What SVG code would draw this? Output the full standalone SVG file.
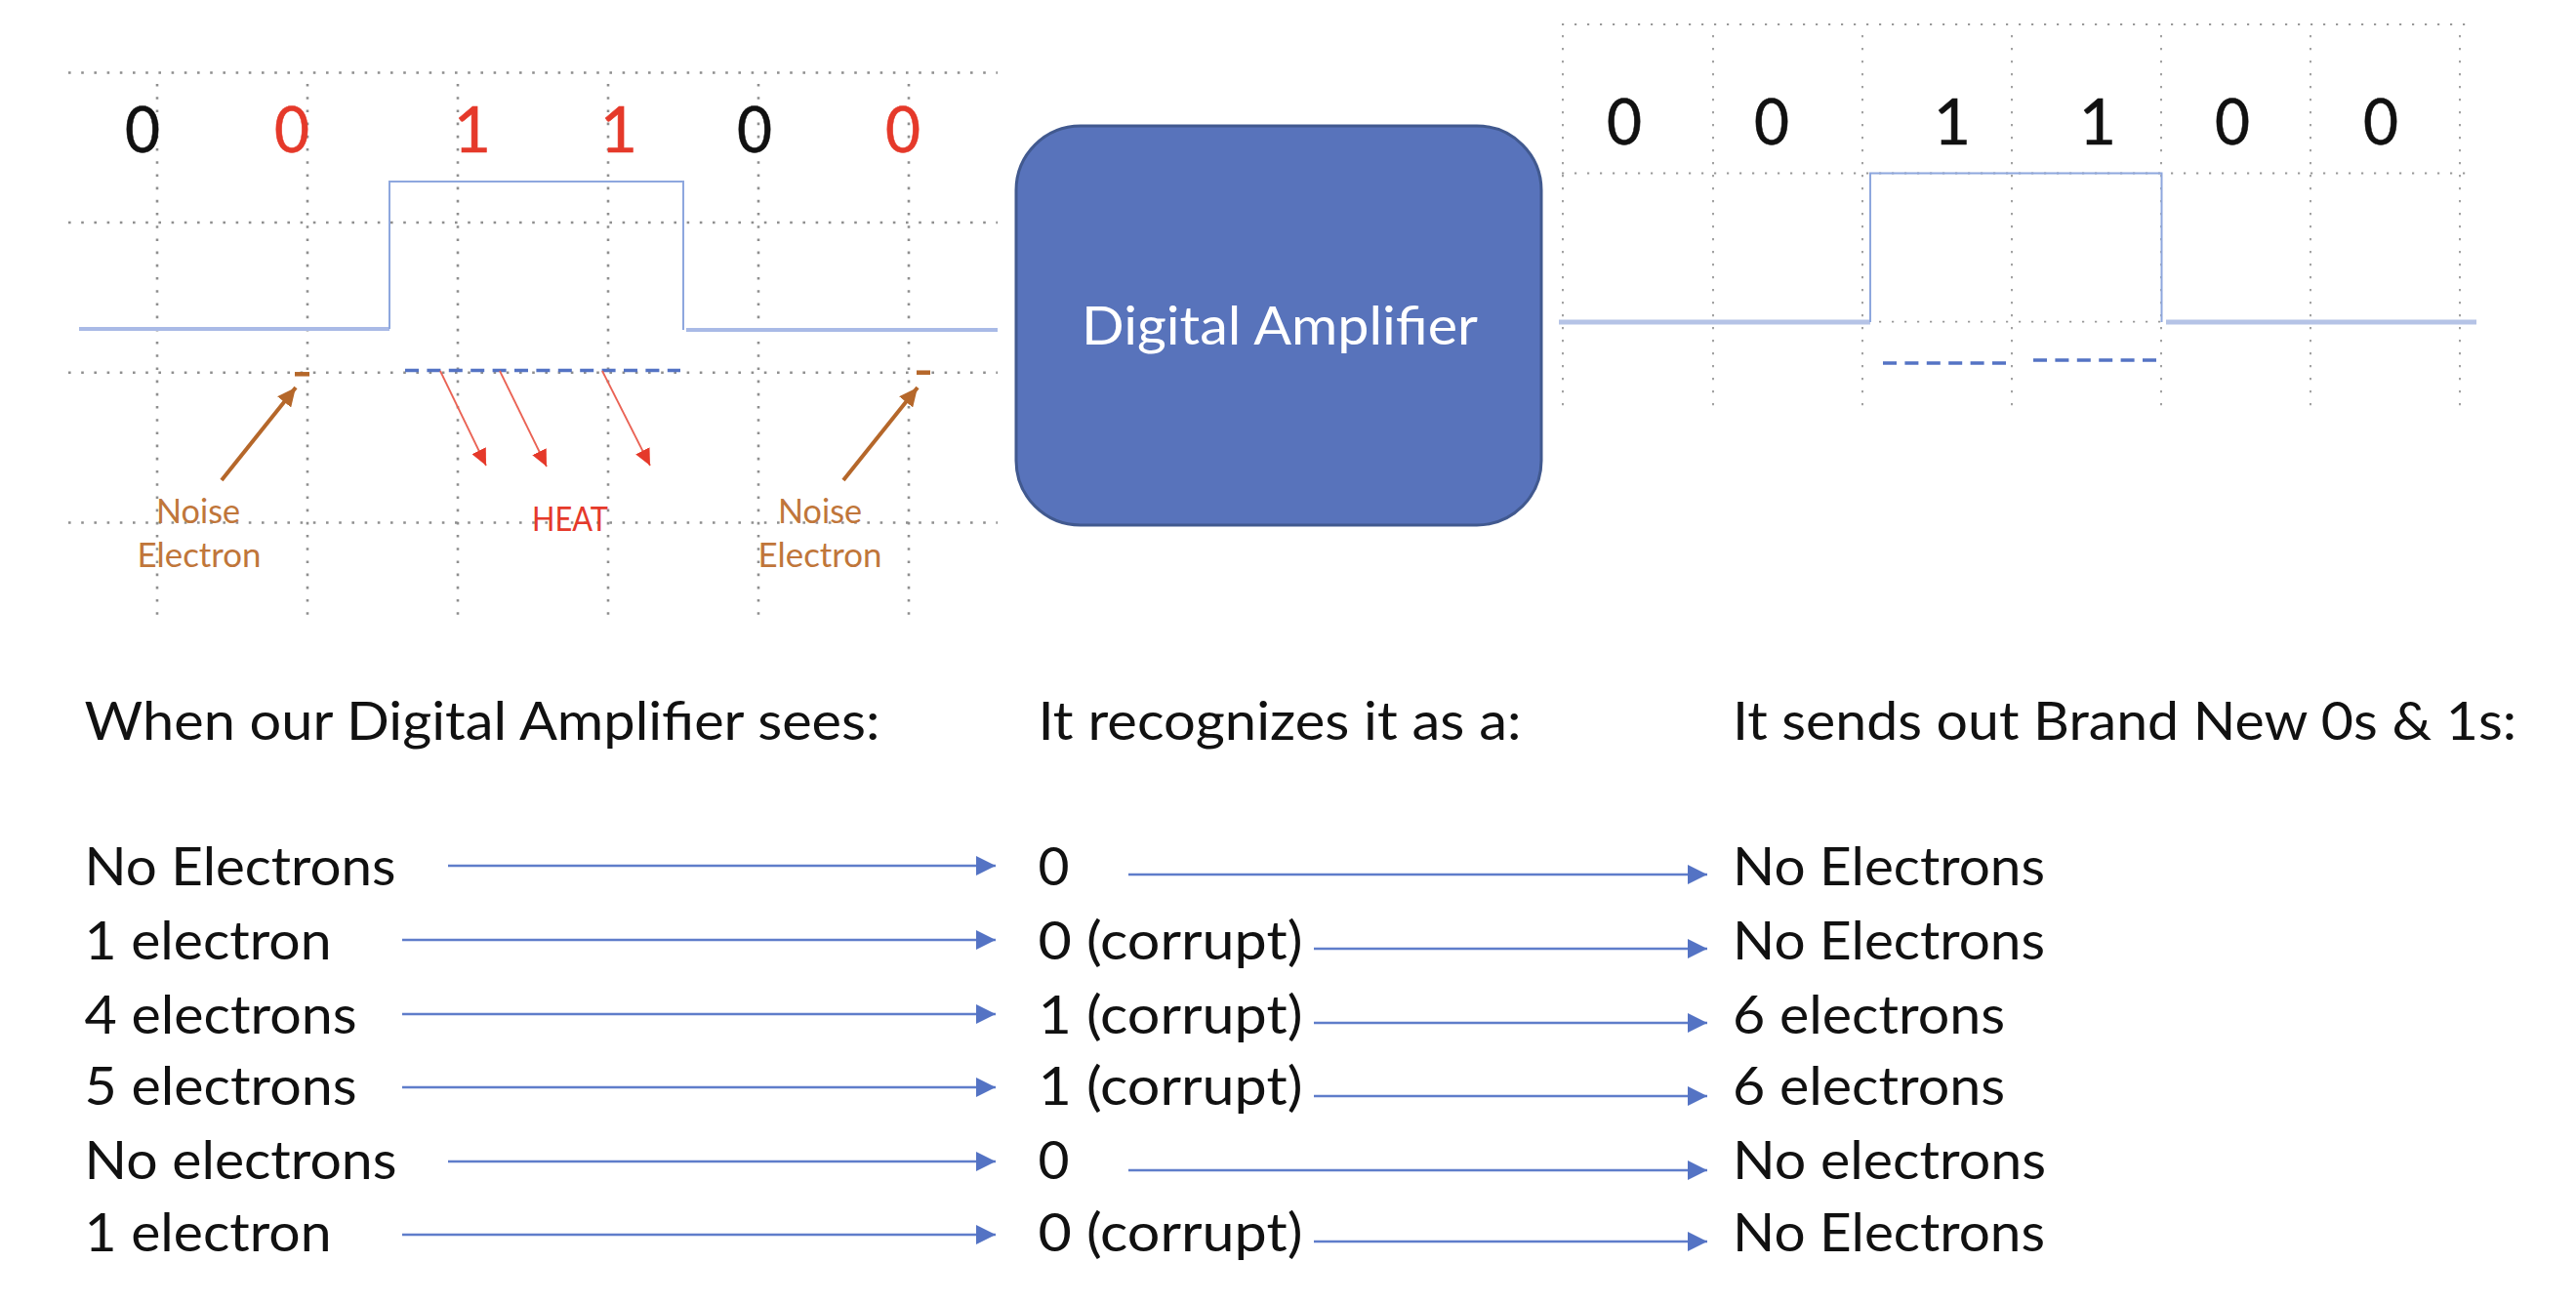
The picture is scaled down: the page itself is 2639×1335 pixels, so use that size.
<svg xmlns="http://www.w3.org/2000/svg" width="2639" height="1335" viewBox="0 0 2639 1335">
<style>
text{font-family:Lato,"Noto Sans",sans-serif;fill:#111}
.row{font-size:55px}
.bit{font-size:66px;text-anchor:middle;stroke:#111;stroke-width:.6}
.red{fill:#e5392a;stroke:#e5392a}
.heatl{stroke:none;font-size:34px}
.br{font-size:35px;fill:#c0763a;text-anchor:middle}
.gA{stroke:#8f8f8f;stroke-width:2.6;stroke-dasharray:2.6 10.6;fill:none}
.gB{stroke:#999;stroke-width:1.8;stroke-dasharray:2.2 10.8;fill:none}
.wave{stroke:#8ea7de;stroke-width:2;fill:none}
.low{stroke:#a9bae6;stroke-width:4;fill:none}
.lowb{stroke:#b5c3e6;stroke-width:5;fill:none}
.dash{stroke:#5473c4;stroke-width:3.5;stroke-dasharray:14 8.4;fill:none}
.conn{stroke:#5f7dca;stroke-width:2.6;fill:none;marker-end:url(#blue)}
.noise{stroke:#b5672a;stroke-width:4;fill:none;marker-end:url(#brown)}
.heat{stroke:#ea6355;stroke-width:1.8;fill:none;marker-end:url(#redh)}
.elec{stroke:#b5672a;stroke-width:4.5;fill:none}
</style>
<defs>
<marker id="blue" markerUnits="userSpaceOnUse" markerWidth="22" markerHeight="20" refX="20" refY="10" orient="auto"><path d="M0 0L20 10L0 20Z" fill="#5473c4"/></marker>
<marker id="brown" markerUnits="userSpaceOnUse" markerWidth="20" markerHeight="18" refX="19" refY="9" orient="auto"><path d="M0 0L19 9L0 18Z" fill="#b5672a"/></marker>
<marker id="redh" markerUnits="userSpaceOnUse" markerWidth="18" markerHeight="16" refX="17" refY="8" orient="auto"><path d="M0 0L17 8L0 16Z" fill="#e5392a"/></marker>
</defs>
<rect width="2639" height="1335" fill="#fff"/>

<g id="input-grid">
<path class="gA" d="M70 74.5H1022M70 228H1022M70 381.7H1022M70 535.5H1022"/>
<path class="gA" d="M161 86V630M315 86V630M469 86V630M623 86V630M777 86V630M931 86V630"/>
</g>
<g id="input-waveform">
<path class="low" d="M81 337H399"/>
<path class="wave" d="M399 337V186H700V338"/>
<path class="low" d="M703 338H1022"/>
<path class="dash" d="M415 379.5H697"/>
<path class="elec" d="M302 383.3H317"/>
<path class="elec" d="M939 381.7H953"/>
</g>
<g id="input-bits">
<text class="bit" x="146" y="156" textLength="36" lengthAdjust="spacingAndGlyphs">0</text>
<text class="bit red" x="299" y="156" textLength="36" lengthAdjust="spacingAndGlyphs">0</text>
<text class="bit red" x="484" y="156">1</text>
<text class="bit red" x="634" y="156">1</text>
<text class="bit" x="773" y="156" textLength="36" lengthAdjust="spacingAndGlyphs">0</text>
<text class="bit red" x="925" y="156" textLength="36" lengthAdjust="spacingAndGlyphs">0</text>
</g>
<g id="noise-label-1">
<text class="br" x="203" y="536" textLength="86" lengthAdjust="spacingAndGlyphs">Noise</text>
<text class="br" x="204" y="581" textLength="127" lengthAdjust="spacingAndGlyphs">Electron</text>
</g>
<g id="heat-label">
<text x="584" y="544" text-anchor="middle" class="red heatl" textLength="78" lengthAdjust="spacingAndGlyphs">HEAT</text>
</g>
<g id="noise-label-2">
<text class="br" x="840" y="536" textLength="86" lengthAdjust="spacingAndGlyphs">Noise</text>
<text class="br" x="840" y="581" textLength="127" lengthAdjust="spacingAndGlyphs">Electron</text>
</g>

<g id="digital-amplifier">
<rect x="1041" y="129" width="538" height="409" rx="66" ry="66" fill="#5873bb" stroke="#41598f" stroke-width="3"/>
<text x="1311" y="353" font-size="55" text-anchor="middle" style="fill:#fff" textLength="406" lengthAdjust="spacingAndGlyphs">Digital Amplifier</text>
</g>

<g id="output-grid">
<path class="gB" d="M1600 25H2535M1600 177.5H2535M1600 329.6H2535"/>
<path class="gB" d="M1601 36V424M1755 36V424M1908 36V424M2061 36V424M2214 36V424M2367 36V424M2520 36V424"/>
</g>
<g id="output-waveform">
<path class="lowb" d="M1597 330H1916"/>
<path class="wave" d="M1916 330V177.5H2214.5V330"/>
<path class="lowb" d="M2219 330H2537"/>
<path class="dash" d="M1929 372H2058"/>
<path class="dash" d="M2083 369H2213"/>
</g>
<g id="output-bits">
<text class="bit" x="1664" y="147.5" textLength="36" lengthAdjust="spacingAndGlyphs">0</text>
<text class="bit" x="1815" y="147.5" textLength="36" lengthAdjust="spacingAndGlyphs">0</text>
<text class="bit" x="2000" y="147.5">1</text>
<text class="bit" x="2149" y="147.5">1</text>
<text class="bit" x="2287" y="147.5" textLength="36" lengthAdjust="spacingAndGlyphs">0</text>
<text class="bit" x="2439" y="147.5" textLength="36" lengthAdjust="spacingAndGlyphs">0</text>
</g>

<g id="column-sees">
<text class="row" x="86.5" y="758" textLength="815" lengthAdjust="spacingAndGlyphs">When our Digital Amplifier sees:</text>
<text class="row" x="86.5" y="907" textLength="319" lengthAdjust="spacingAndGlyphs">No Electrons</text>
<text class="row" x="86.5" y="983" textLength="253" lengthAdjust="spacingAndGlyphs">1 electron</text>
<text class="row" x="86.5" y="1059" textLength="279" lengthAdjust="spacingAndGlyphs">4 electrons</text>
<text class="row" x="86.5" y="1132" textLength="279" lengthAdjust="spacingAndGlyphs">5 electrons</text>
<text class="row" x="86.5" y="1207.5" textLength="320" lengthAdjust="spacingAndGlyphs">No electrons</text>
<text class="row" x="86.5" y="1281.5" textLength="253" lengthAdjust="spacingAndGlyphs">1 electron</text>
</g>
<g id="column-recognizes">
<text class="row" x="1063.5" y="758" textLength="495" lengthAdjust="spacingAndGlyphs">It recognizes it as a:</text>
<text class="row" x="1063.5" y="907" textLength="32" lengthAdjust="spacingAndGlyphs">0</text>
<text class="row" x="1063.5" y="983" textLength="271" lengthAdjust="spacingAndGlyphs">0 (corrupt)</text>
<text class="row" x="1063.5" y="1059" textLength="271" lengthAdjust="spacingAndGlyphs">1 (corrupt)</text>
<text class="row" x="1063.5" y="1132" textLength="271" lengthAdjust="spacingAndGlyphs">1 (corrupt)</text>
<text class="row" x="1063.5" y="1207.5" textLength="32" lengthAdjust="spacingAndGlyphs">0</text>
<text class="row" x="1063.5" y="1281.5" textLength="271" lengthAdjust="spacingAndGlyphs">0 (corrupt)</text>
</g>
<g id="column-sends">
<text class="row" x="1775" y="758" textLength="803" lengthAdjust="spacingAndGlyphs">It sends out Brand New 0s &amp; 1s:</text>
<text class="row" x="1775" y="907" textLength="320" lengthAdjust="spacingAndGlyphs">No Electrons</text>
<text class="row" x="1775" y="983" textLength="320" lengthAdjust="spacingAndGlyphs">No Electrons</text>
<text class="row" x="1775" y="1059" textLength="279" lengthAdjust="spacingAndGlyphs">6 electrons</text>
<text class="row" x="1775" y="1132" textLength="279" lengthAdjust="spacingAndGlyphs">6 electrons</text>
<text class="row" x="1775" y="1207.5" textLength="321" lengthAdjust="spacingAndGlyphs">No electrons</text>
<text class="row" x="1775" y="1281.5" textLength="320" lengthAdjust="spacingAndGlyphs">No Electrons</text>
</g>

<g id="connectors">
<line class="noise" x1="227" y1="492" x2="303" y2="397"/>
<line class="noise" x1="864" y1="492" x2="940" y2="397"/>
<line class="heat" x1="451" y1="380" x2="498" y2="477"/>
<line class="heat" x1="512" y1="380" x2="560" y2="478"/>
<line class="heat" x1="617" y1="380" x2="666" y2="477"/>
<line class="conn" x1="459" y1="887" x2="1020" y2="887"/>
<line class="conn" x1="412" y1="963" x2="1020" y2="963"/>
<line class="conn" x1="412" y1="1039" x2="1020" y2="1039"/>
<line class="conn" x1="412" y1="1114" x2="1020" y2="1114"/>
<line class="conn" x1="459" y1="1190" x2="1020" y2="1190"/>
<line class="conn" x1="412" y1="1265" x2="1020" y2="1265"/>
<line class="conn" x1="1156" y1="896" x2="1749" y2="896"/>
<line class="conn" x1="1346" y1="972" x2="1749" y2="972"/>
<line class="conn" x1="1346" y1="1048" x2="1749" y2="1048"/>
<line class="conn" x1="1346" y1="1123" x2="1749" y2="1123"/>
<line class="conn" x1="1156" y1="1199" x2="1749" y2="1199"/>
<line class="conn" x1="1346" y1="1272" x2="1749" y2="1272"/>
</g>
</svg>
